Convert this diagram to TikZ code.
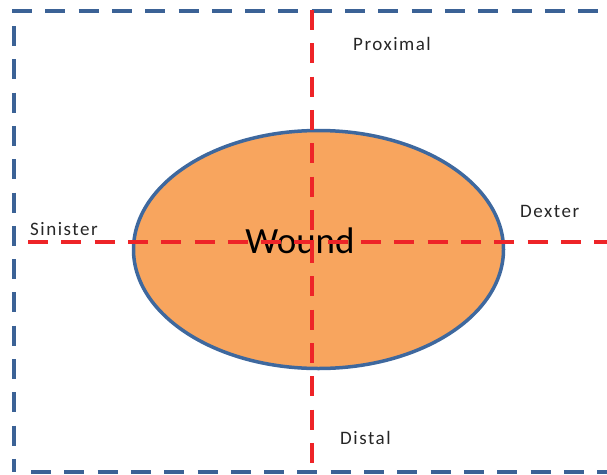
\documentclass[tikz,border=0pt]{standalone}
\usepackage{fontspec}
\setmainfont{Carlito}
\newfontfamily\sidefont[LetterSpace=8]{Carlito}
\usetikzlibrary{shapes.geometric}
\definecolor{frameblue}{RGB}{59,98,150}
\definecolor{axisred}{RGB}{238,36,40}
\definecolor{woundfill}{RGB}{248,165,94}
\definecolor{woundedge}{RGB}{62,104,158}
\begin{document}
\begin{tikzpicture}[x=1pt,y=-1pt,
  frame/.style={draw=frameblue,line width=4pt,dash pattern=on 20pt off 13.3pt},
  axis/.style={draw=axisred,line width=4pt,dash pattern=on 20pt off 13.3pt},
  side/.style={font=\sidefont\fontsize{19}{21}\selectfont,text=black!85,anchor=base west,inner sep=0pt},
  woundshape/.style={ellipse,draw=woundedge,line width=3.5pt,fill=woundfill,
    minimum width=370pt,minimum height=238pt,inner sep=0pt}]
\useasboundingbox (0,0) rectangle (607,474);

% outer frame (its right side lies outside the picture)
\coordinate (ftl) at (12,11);
\coordinate (ftr) at (620,11);
\coordinate (flt) at (14,26);
\coordinate (flb) at (14,472);
\coordinate (fbl) at (31,472);
\coordinate (fbr) at (620,472);
\draw[frame] (ftl) -- (ftr);
\draw[frame] (flt) -- (flb);
\draw[frame] (fbl) -- (fbr);

% the wound
\node[woundshape] (wound) at (318.5,249.5) {};
\node[font=\fontsize{37}{40}\selectfont,anchor=base,inner sep=0pt] (woundtext) at (300,253) {Wound};

% axes
\coordinate (top) at (312,10);
\coordinate (bottom) at (312,480);
\coordinate (left) at (28,242);
\coordinate (right) at (620,242);
\draw[axis] (top) -- (bottom);
\draw[axis] (left) -- (right);

% direction labels
\node[side] (proximal) at (353,50) {Proximal};
\node[side] (distal) at (340,444) {Distal};
\node[side] (sinister) at (30,235) {Sinister};
\node[side] (dexter) at (520,217) {Dexter};
\end{tikzpicture}
\end{document}
